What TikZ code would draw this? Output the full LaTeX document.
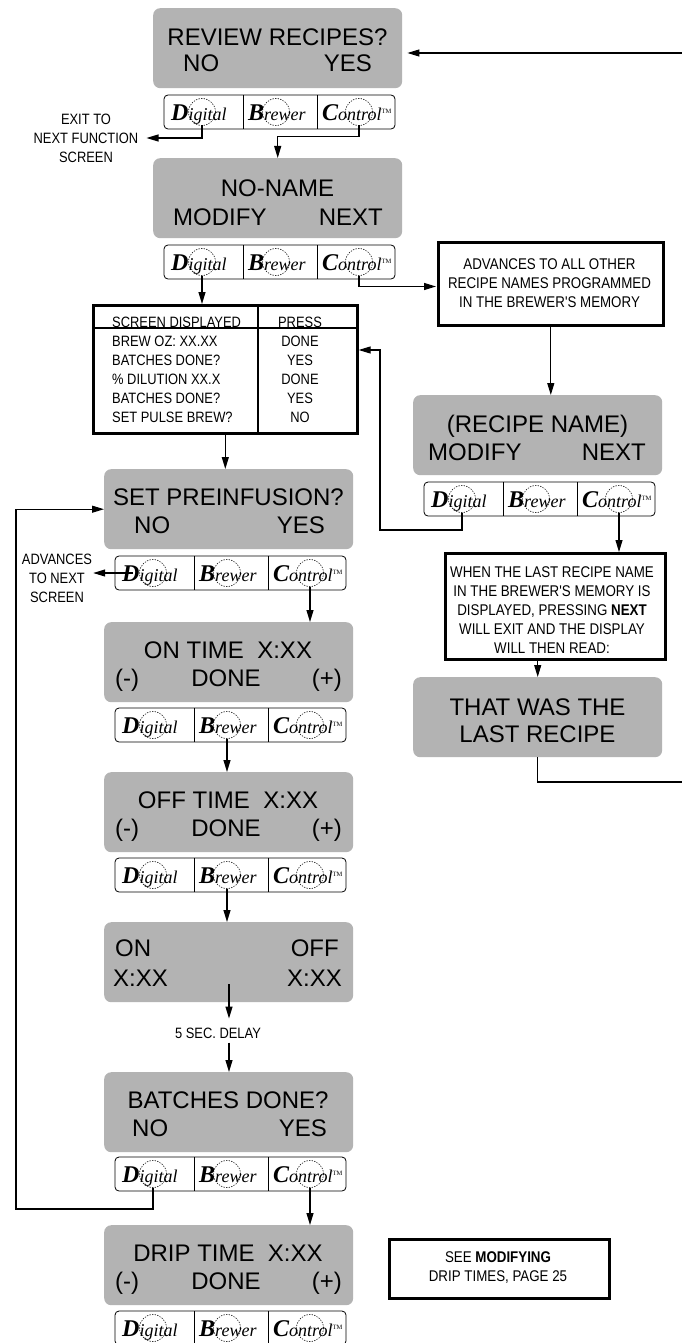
\documentclass[tikz,border=0pt]{standalone}
\usepackage{fontspec}
\setmainfont{Liberation Sans}
\newfontfamily\narrowfont[FakeStretch=0.86]{Liberation Sans}
\newfontfamily\logofont{Liberation Serif}
\usetikzlibrary{arrows.meta}
\definecolor{screengray}{RGB}{179,179,179}
\newcommand{\logoBig}{\logofont\bfseries\itshape\fontsize{24}{24}\selectfont}
\newcommand{\logoSm}{\logofont\itshape\fontsize{18}{18}\selectfont}
\newcommand{\logoTM}{\raisebox{7pt}{\logofont\fontsize{6.5}{7}\selectfont TM}}
\tikzset{
  screen/.style={fill=screengray, rounded corners=7pt, minimum width=249pt, minimum height=80pt, inner sep=0pt, anchor=north west},
  big/.style={font=\fontsize{24}{28}\selectfont, inner sep=0pt},
  small/.style={font=\narrowfont\fontsize{15}{19}\selectfont, inner sep=0pt, align=center},
  boxtext/.style={font=\narrowfont\fontsize{15.5}{19}\selectfont, inner sep=0pt, align=center},
  infobox/.style={draw, line width=2.6pt, inner sep=0pt, anchor=north west},
  conn/.style={line width=1.1pt},
  arr/.style={conn, -{Triangle[length=12pt,width=7pt]}},
  dotc/.style={line width=0.55pt, dash pattern=on 1.3pt off 1.3pt},
  pics/dbcbar/.style={code={
    \draw[line width=0.8pt, rounded corners=4pt, fill=white] (0,0) rectangle (231,34);
    \draw[line width=0.8pt] (79,0) -- (79,34) (153,0) -- (153,34);
    \draw[dotc] (38,17) circle[radius=13.5pt] (112,17) circle[radius=13.5pt] (195,17) circle[radius=13.5pt];
    \node[anchor=base west, inner sep=0pt] (-dt) at (7,25.5) {{\logoBig D}{\logoSm igital}};
    \node[anchor=base west, inner sep=0pt] (-bt) at (84,25.5) {{\logoBig B}{\logoSm rewer}};
    \node[anchor=base west, inner sep=0pt] (-ct) at (158,25.5) {{\logoBig C}{\logoSm ontrol}\logoTM};
    \coordinate (-dm) at (38,17);
    \coordinate (-d) at (38,30.5);
    \coordinate (-b) at (112,30.5);
    \coordinate (-c) at (195,30.5);
  }}
}
\begin{document}
\begin{tikzpicture}[x=1pt, y=-1pt]
\useasboundingbox (0,0) rectangle (682,1343);

% ---------- top column ----------
\node[screen] (s1) at (153,8) {};
\node[big, anchor=base] (t1a) at (277.5,45.6) {REVIEW RECIPES?};
\node[big, anchor=base west] (t1b) at (183,71.6) {NO};
\node[big, anchor=base east] (t1c) at (372,71.6) {YES};
\pic (bar1) at (164,95) {dbcbar};

\node[small] (exitlbl) at (86,138) {EXIT TO\\NEXT FUNCTION\\SCREEN};

\node[screen] (s2) at (153,158) {};
\node[big, anchor=base] (t2a) at (277.5,196.6) {NO-NAME};
\node[big, anchor=base west] (t2b) at (173,225.6) {MODIFY};
\node[big, anchor=base east] (t2c) at (383,225.6) {NEXT};
\pic (bar2) at (164,245) {dbcbar};

% table
\node[infobox, minimum width=264pt, minimum height=128pt] (tbl) at (92,304) {};
\draw[line width=1.6pt] (92,328) -- (356,328) (258,304) -- (258,432);
\node[small, anchor=base west] (r0a) at (112,327) {SCREEN DISPLAYED};
\node[small, anchor=base] (r0b) at (300,327) {PRESS};
\node[small, anchor=base west] (r1a) at (112,346) {BREW OZ: XX.XX};
\node[small, anchor=base] (r1b) at (300,346) {DONE};
\node[small, anchor=base west] (r2a) at (112,365) {BATCHES DONE?};
\node[small, anchor=base] (r2b) at (300,365) {YES};
\node[small, anchor=base west] (r3a) at (112,384) {\% DILUTION XX.X};
\node[small, anchor=base] (r3b) at (300,384) {DONE};
\node[small, anchor=base west] (r4a) at (112,403) {BATCHES DONE?};
\node[small, anchor=base] (r4b) at (300,403) {YES};
\node[small, anchor=base west] (r5a) at (112,422) {SET PULSE BREW?};
\node[small, anchor=base] (r5b) at (300,422) {NO};

% ---------- right column ----------
\node[infobox, minimum width=225pt, minimum height=83pt] (adv) at (437,241) {};
\node[boxtext] (advt) at (549.5,283.5) {ADVANCES TO ALL OTHER\\RECIPE NAMES PROGRAMMED\\IN THE BREWER'S MEMORY};

\node[screen] (s3) at (413,395) {};
\node[big, anchor=base] (t3a) at (537.5,432.6) {(RECIPE NAME)};
\node[big, anchor=base west] (t3b) at (428,460.6) {MODIFY};
\node[big, anchor=base east] (t3c) at (646,460.6) {NEXT};
\pic (bar3) at (424,482) {dbcbar};

\node[infobox, minimum width=220pt, minimum height=106pt] (when) at (444,552) {};
\node[boxtext] (whent) at (552,610) {WHEN THE LAST RECIPE NAME\\IN THE BREWER'S MEMORY IS\\DISPLAYED, PRESSING \textbf{NEXT}\\WILL EXIT AND THE DISPLAY\\WILL THEN READ:};

\node[screen] (s4) at (413,677) {};
\node[big, anchor=base] (t4a) at (537.5,715.6) {THAT WAS THE};
\node[big, anchor=base] (t4b) at (537.5,742.6) {LAST RECIPE};

\coordinate (rbot) at (684,782);
\coordinate (rtop) at (684,53);

% ---------- left column ----------
\node[screen] (s5) at (104,469) {};
\node[big, anchor=base] (t5a) at (228.5,505.6) {SET PREINFUSION?};
\node[big, anchor=base west] (t5b) at (134,533.6) {NO};
\node[big, anchor=base east] (t5c) at (325,533.6) {YES};
\pic (bar5) at (115,556) {dbcbar};
\node[small] (advlbl) at (57,578) {ADVANCES\\TO NEXT\\SCREEN};

\node[screen] (s6) at (104,622) {};
\node[big, anchor=base] (t6a) at (228,658.6) {ON TIME\ \ X:XX};
\node[big, anchor=base west] (t6b) at (115,686.6) {(-)};
\node[big, anchor=base] (t6c) at (226,686.6) {DONE};
\node[big, anchor=base east] (t6d) at (342,686.6) {(+)};
\pic (bar6) at (115,708) {dbcbar};

\node[screen] (s7) at (104,772) {};
\node[big, anchor=base] (t7a) at (228,808.6) {OFF TIME\ \ X:XX};
\node[big, anchor=base west] (t7b) at (115,836.6) {(-)};
\node[big, anchor=base] (t7c) at (226,836.6) {DONE};
\node[big, anchor=base east] (t7d) at (342,836.6) {(+)};
\pic (bar7) at (115,858) {dbcbar};

\node[screen] (s8) at (104,922) {};
\node[big, anchor=base west] (t8a) at (115,956.6) {ON};
\node[big, anchor=base east] (t8b) at (339,956.6) {OFF};
\node[big, anchor=base west] (t8c) at (113,986.6) {X:XX};
\node[big, anchor=base east] (t8d) at (342,986.6) {X:XX};
\coordinate (d1) at (229,984);
\node[small] (delay) at (218,1033) {5 SEC. DELAY};

\node[screen] (s9) at (104,1072) {};
\node[big, anchor=base] (t9a) at (228,1108.6) {BATCHES DONE?};
\node[big, anchor=base west] (t9b) at (132,1136.6) {NO};
\node[big, anchor=base east] (t9c) at (327,1136.6) {YES};
\pic (bar9) at (115,1157) {dbcbar};
\coordinate (lp) at (16,1209);

\node[screen] (s10) at (104,1225) {};
\node[big, anchor=base] (t10a) at (228,1261.6) {DRIP TIME\ \ X:XX};
\node[big, anchor=base west] (t10b) at (115,1289.6) {(-)};
\node[big, anchor=base] (t10c) at (226,1289.6) {DONE};
\node[big, anchor=base east] (t10d) at (342,1289.6) {(+)};
\pic (bar10) at (115,1311) {dbcbar};

\node[infobox, minimum width=220pt, minimum height=59pt] (see) at (388,1238) {};
\node[boxtext] (seet) at (498,1268) {SEE \textbf{MODIFYING}\\DRIP TIMES, PAGE 25};

% ---------- connectors ----------
\draw[arr, shorten >=5pt] (s4.south) |- (rbot) -- (rtop) -- (s1.east |- rtop);
\draw[arr] (bar1-d) |- ([xshift=8pt]exitlbl.east);
\draw[arr] (bar1-c) -- ++(0,11) -| (s2.north);
\draw[arr] (bar2-d) -- (bar2-d |- tbl.north);
\path (bar2-c) ++(0,11) coordinate (aj);
\draw[arr] (bar2-c) -- (aj) -- ([xshift=-1pt]aj -| adv.west);
\draw[arr] (adv.south) -- (adv.south |- s3.north);
\coordinate (tj) at (380,350);
\draw[arr] (bar3-d) -- ++(0,17.5) -| (tj) -- (tj -| tbl.east);
\draw[arr] (bar3-c) -- (bar3-c |- when.north);
\draw[arr] (s4.north |- when.south) -- (s4.north);
\draw[arr] (tbl.south) -- (tbl.south |- s5.north);
\draw[arr] ([xshift=-20pt]bar5-dm) -- ([xshift=1pt]advlbl.east |- bar5-dm);
\draw[arr] (bar5-c) -- (bar5-c |- s6.north);
\draw[arr] (bar6-b) -- (bar6-b |- s7.north);
\draw[arr] (bar7-b) -- (bar7-b |- s8.north);
\draw[arr] (d1) -- ([yshift=9pt]delay.north -| d1);
\draw[arr] ([yshift=-4pt]delay.south -| d1) -- (d1 |- s9.north);
\draw[arr] (bar9-d) |- (lp) |- (s5.west);
\draw[arr] (bar9-c) -- (bar9-c |- s10.north);
\end{tikzpicture}
\end{document}
